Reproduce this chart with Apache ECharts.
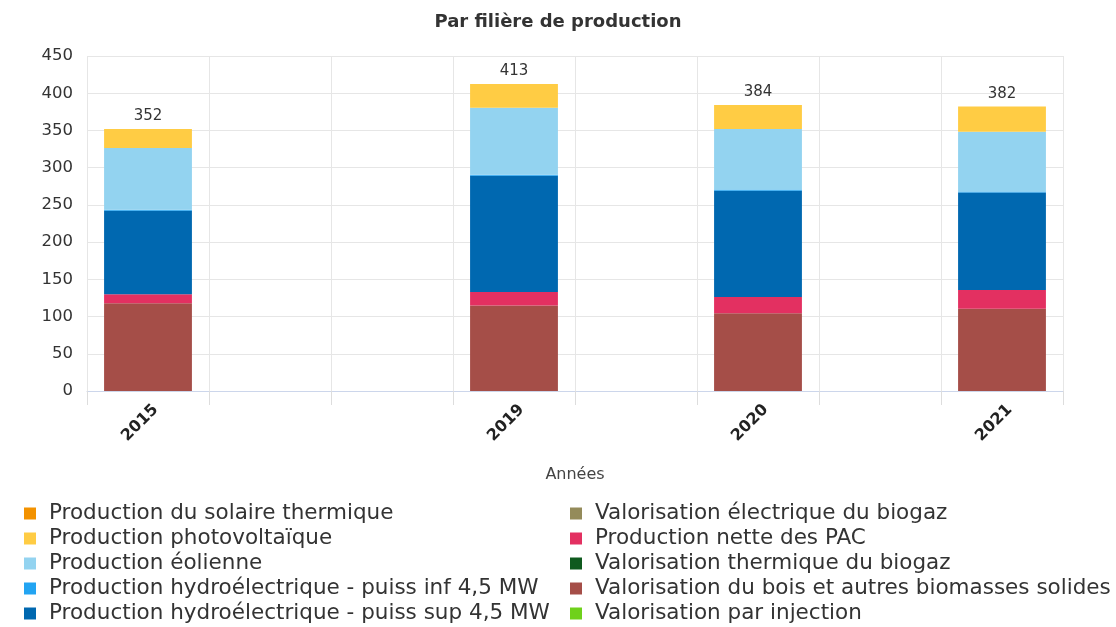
<!DOCTYPE html>
<html>
<head>
<meta charset="utf-8">
<script src="https://cdn.jsdelivr.net/npm/echarts@6/dist/echarts.min.js"></script>
<style>
  html, body { margin: 0; padding: 0; background: #fff; }
  #chart { width: 1116px; height: 627px; }
</style>
</head>
<body>
<div id="chart"></div>
<script>
// empty slots keep the spacing of the original axis
const categories = ["2015", "", "", "2019", "", "2020", "", "2021"];
const yTicks = [0, 50, 100, 150, 200, 250, 300, 350, 400, 450];

const solaireThermique = [0, null, null, 0, null, 0, null, 0];
const photovoltaique = [25.5, null, null, 32, null, 32, null, 34];
const eolienne = [83, null, null, 90, null, 81.5, null, 80];
const hydroInf = [1.5, null, null, 1.5, null, 1.7, null, 1.5];
const hydroSup = [112, null, null, 156, null, 142.5, null, 131];
const biogazElec = [0, null, null, 0, null, 0, null, 0];
const pac = [12, null, null, 18, null, 22, null, 25];
const biogazTherm = [0, null, null, 0, null, 0, null, 0];
const bois = [118, null, null, 115, null, 104.4, null, 110.6];
const injection = [0, null, null, 0, null, 0, null, 0];

const font = "DejaVu Sans";

// legend order (top to bottom of stack)
const seriesDefs = [
  { name: "Production du solaire thermique", data: solaireThermique, color: "#f39200" },
  { name: "Production photovoltaïque", data: photovoltaique, color: "#ffcc44" },
  { name: "Production éolienne", data: eolienne, color: "#93d3f0" },
  { name: "Production hydroélectrique - puiss inf 4,5 MW", data: hydroInf, color: "#22a4f2" },
  { name: "Production hydroélectrique - puiss sup 4,5 MW", data: hydroSup, color: "#0068b0" },
  { name: "Valorisation électrique du biogaz", data: biogazElec, color: "#948b5a" },
  { name: "Production nette des PAC", data: pac, color: "#e33061" },
  { name: "Valorisation thermique du biogaz", data: biogazTherm, color: "#0f5a1e" },
  { name: "Valorisation du bois et autres biomasses solides", data: bois, color: "#a54e48" },
  { name: "Valorisation par injection", data: injection, color: "#6fd11b" }
];

const totals = categories.map((c, i) =>
  seriesDefs.reduce((s, d) => (d.data[i] == null ? s : s + d.data[i]), 0)
);

const series = seriesDefs.slice().reverse().map((d) => ({
  name: d.name,
  type: "bar",
  stack: "total",
  data: d.data,
  barWidth: "72%",
  itemStyle: { color: d.color },
  label: d.data === solaireThermique ? {
    show: true,
    position: "top",
    distance: 5,
    color: "#333",
    fontFamily: font,
    fontSize: 15,
    formatter: (p) => (categories[p.dataIndex] ? Math.round(totals[p.dataIndex]) : "")
  } : { show: false }
}));

const legendText = { color: "#333", fontFamily: font, fontSize: 21.5, lineHeight: 23, padding: [0, 0, 0, 8] };

function legendCol(names, left) {
  return {
    data: names,
    orient: "vertical",
    left: left,
    top: 502,
    height: 125,
    padding: 0,
    itemGap: 2,
    itemWidth: 12,
    itemHeight: 12,
    icon: "rect",
    textStyle: legendText
  };
}

const chart = echarts.init(document.getElementById("chart"));
chart.setOption({
  animation: false,
  title: {
    text: "Par filière de production",
    left: "center",
    top: 8,
    textStyle: { color: "#333", fontFamily: font, fontSize: 18, fontWeight: "bold" }
  },
  legend: [
    legendCol(seriesDefs.slice(0, 5).map((d) => d.name), 24),
    legendCol(seriesDefs.slice(5).map((d) => d.name), 570)
  ],
  grid: { left: 87, right: 53, top: 56, bottom: 236 },
  xAxis: {
    type: "category",
    data: categories,
    name: "Années",
    nameLocation: "middle",
    nameGap: 76,
    nameTextStyle: { color: "#444", fontFamily: font, fontSize: 16 },
    axisLine: { lineStyle: { color: "#ccd6eb" } },
    axisTick: { show: true, length: 14, lineStyle: { color: "#ddd" } },
    splitLine: { show: true, lineStyle: { color: "#e6e6e6" } },
    axisLabel: {
      rotate: 45,
      interval: 0,
      margin: 24,
      padding: [0, -11, 0, 0],
      color: "#222",
      fontFamily: font,
      fontSize: 16,
      fontWeight: "bold"
    }
  },
  yAxis: {
    type: "value",
    min: yTicks[0],
    max: yTicks[yTicks.length - 1],
    interval: 50,
    axisLine: { show: false },
    axisTick: { show: false },
    axisLabel: { color: "#333", fontFamily: font, fontSize: 16.5, margin: 14 },
    splitLine: { lineStyle: { color: "#e6e6e6" } }
  },
  series: series
});
</script>
</body>
</html>
